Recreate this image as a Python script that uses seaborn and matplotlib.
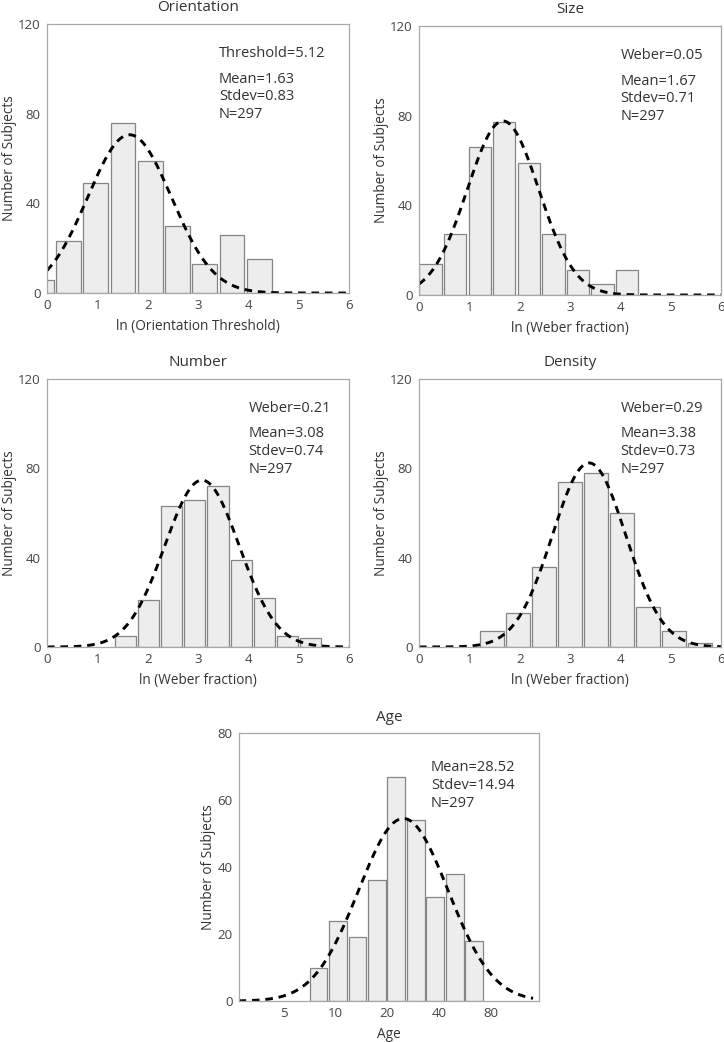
import numpy as np
import pandas as pd
import seaborn as sns
import matplotlib.pyplot as plt

# histogram counts (N=297 in every panel)
orient_counts = [6, 23, 49, 76, 59, 30, 13, 26, 15]
size_counts = [14, 27, 66, 77, 59, 27, 11, 5, 11]
number_counts = [5, 21, 63, 66, 72, 39, 22, 5, 4]
density_counts = [7, 15, 36, 74, 78, 60, 18, 7, 2]
age_counts = [10, 24, 19, 36, 67, 54, 31, 38, 18]

# first bin centre, bin spacing (ln units)
orient_bins = (-0.111, 0.541)
size_bins = (0.23, 0.488)
number_bins = (1.553, 0.461)
density_bins = (1.456, 0.516)
age_bins = (2.072, 0.261)

# fitted normal curve: mean, stdev, peak height (ln units)
orient_fit = (1.64, 0.83, 70.6)
size_fit = (1.67, 0.71, 77.6)
number_fit = (3.08, 0.74, 74.7)
density_fit = (3.38, 0.73, 82.4)
age_fit = (3.21, 0.60, 54.5)

titles = ["Orientation", "Size", "Number", "Density", "Age"]
xlabels = ["ln (Orientation Threshold)", "ln (Weber fraction)",
           "ln (Weber fraction)", "ln (Weber fraction)", "Age"]
first_lines = ["Threshold=5.12", "Weber=0.05", "Weber=0.21", "Weber=0.29", None]
stats = [("1.63", "0.83"), ("1.67", "0.71"), ("3.08", "0.74"),
         ("3.38", "0.73"), ("28.52", "14.94")]
n_subj = 297

age_ticks = [5, 10, 20, 40, 80]

sns.set_theme(style="white")
plt.rcParams['font.family'] = ['Open Sans', 'DejaVu Sans']

fig = plt.figure(figsize=(7.24, 10.42), dpi=100)

rects = [
    [0.0649, 0.7188, 0.4171, 0.2582],
    [0.5787, 0.7169, 0.4171, 0.2582],
    [0.0649, 0.3791, 0.4171, 0.2572],
    [0.5787, 0.3791, 0.4171, 0.2572],
    [0.3301, 0.0393, 0.4144, 0.2572],
]
counts_all = [orient_counts, size_counts, number_counts, density_counts, age_counts]
bins_all = [orient_bins, size_bins, number_bins, density_bins, age_bins]
fits = [orient_fit, size_fit, number_fit, density_fit, age_fit]

text_col = "#333333"
tick_col = "#444444"

for i in range(5):
    ax = fig.add_axes(rects[i])
    counts = counts_all[i]
    c0, step = bins_all[i]
    centers = c0 + step * np.arange(len(counts))
    edges = list(c0 - step / 2 + step * np.arange(len(counts) + 1))
    df = pd.DataFrame({"x": centers, "n": counts})

    sns.histplot(data=df, x="x", weights="n", bins=edges, shrink=0.91,
                 color="#ededed", edgecolor="#858585", linewidth=0.9,
                 alpha=1, ax=ax)

    mu, sd, peak = fits[i]
    if i < 4:
        xs = np.linspace(0, 6, 300)
    else:
        xs = np.linspace(1.0, 4.95, 300)
    ys = peak * np.exp(-0.5 * ((xs - mu) / sd) ** 2)
    sns.lineplot(x=xs, y=ys, color="black", linewidth=2.1,
                 linestyle=(0, (2.6, 2.0)), ax=ax)

    if i < 4:
        ax.set_xlim(0, 6)
        ax.set_ylim(0, 120)
        ax.set_xticks(range(7))
        ax.set_yticks([0, 40, 80, 120])
    else:
        ax.set_xlim(1.006, 5.03)
        ax.set_ylim(0, 80)
        ax.set_xticks(np.log(age_ticks))
        ax.set_xticklabels([str(a) for a in age_ticks])
        ax.set_yticks([0, 20, 40, 60, 80])

    ax.set_title(titles[i], fontsize=11, color=text_col, pad=9)
    ax.set_xlabel(xlabels[i], fontsize=9.8, color=text_col, labelpad=5)
    ax.set_ylabel("Number of Subjects", fontsize=9.8, color=text_col, labelpad=1)
    ax.tick_params(length=0, labelsize=9.5, colors=tick_col, pad=4.5)
    for sp in ax.spines.values():
        sp.set_color("#a8a8a8")
        sp.set_linewidth(0.9)

    m, s = stats[i]
    if i < 4:
        tx = 0.57 if i == 0 else 0.667
        ax.text(tx, 0.89, first_lines[i], transform=ax.transAxes,
                fontsize=10.5, color=text_col, va="center")
        ys_txt = [0.795, 0.73, 0.663]
    else:
        tx = 0.64
        ys_txt = [0.872, 0.805, 0.738]
    for yy, line in zip(ys_txt, ["Mean=" + m, "Stdev=" + s, "N=%d" % n_subj]):
        ax.text(tx, yy, line, transform=ax.transAxes, fontsize=10.5,
                color=text_col, va="center")

fig.savefig("out.png", dpi=100)
